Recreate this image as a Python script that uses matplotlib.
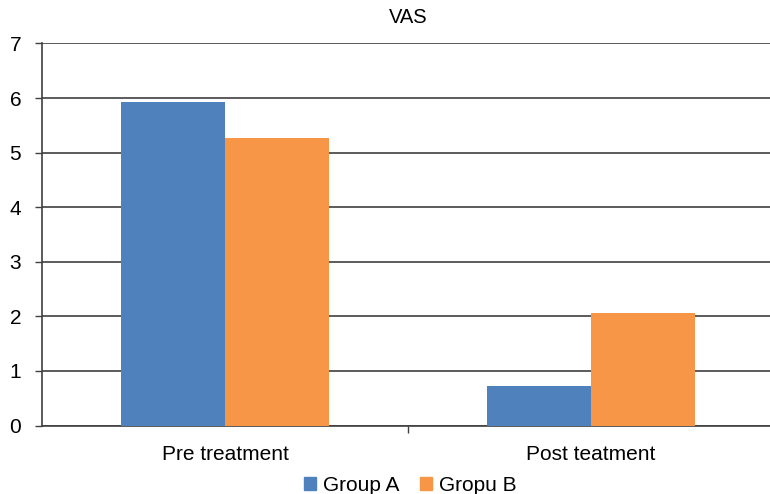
import numpy as np
import matplotlib.pyplot as plt
from matplotlib.patches import Patch

plt.rcParams['font.family'] = ['Liberation Sans', 'DejaVu Sans']

categories = ['Pre treatment', 'Post teatment']
group_a = [5.92, 0.72]
group_b = [5.26, 2.07]
series_names = ['Group A', 'Gropu B']
colors = ['#4F81BD', '#F79646']

fig = plt.figure(figsize=(7.7, 4.94), dpi=100)
ax = fig.add_axes([42 / 770, (494 - 425.5) / 494, 732 / 770, 382 / 494])

x = np.arange(len(categories))
w = 0.284
ax.bar(x - w / 2, group_a, w, color=colors[0], zorder=3)
ax.bar(x + w / 2, group_b, w, color=colors[1], zorder=3)

ax.set_xlim(-0.5, 1.5)
ax.set_ylim(0, 7)
ax.set_yticks(range(0, 8))
ax.yaxis.grid(True, color='#404040', linewidth=1.2, zorder=0)
ax.set_axisbelow(True)

ax.set_xticks([0.5])
ax.set_xticklabels([''])
ax.set_xticks(x, minor=True)
ax.set_xticklabels(categories, minor=True)
ax.tick_params(axis='x', which='minor', length=0, labelsize=15, pad=14)
ax.tick_params(axis='x', which='major', length=5, width=1, color='#404040')
ax.tick_params(axis='y', length=5, width=1, color='#404040', labelsize=15, pad=10)

for s in ['top', 'right']:
    ax.spines[s].set_visible(False)
for s in ['left', 'bottom']:
    ax.spines[s].set_color('#404040')
    ax.spines[s].set_linewidth(1.2)

ax.set_title('VAS', fontsize=14.5, pad=15)

handles = [Patch(color=c) for c in colors]
fig.legend(handles, series_names, loc='lower center', bbox_to_anchor=(410 / 770, -0.04),
           ncol=2, frameon=False, fontsize=15, handlelength=0.6, handleheight=0.6,
           handletextpad=0.3, columnspacing=1.0)

fig.savefig('out.png', dpi=100)
